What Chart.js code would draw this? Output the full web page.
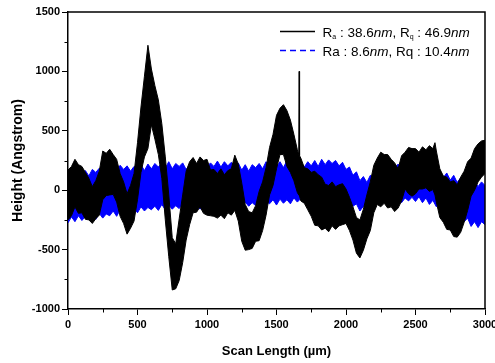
<!DOCTYPE html>
<html><head><meta charset="utf-8">
<script src="https://cdn.jsdelivr.net/npm/chart.js@4.4.1/dist/chart.umd.min.js"></script>
<style>html,body{margin:0;padding:0;background:#fff}#wrap{width:495px;height:363px}</style>
</head><body><div id="wrap"><canvas id="c" width="495" height="363"></canvas></div>
<script>
// ---- axis ticks ----
const xTickValues = [0, 500, 1000, 1500, 2000, 2500, 3000];
const yTickValues = [-1000, -500, 0, 500, 1000, 1500];
const xMinorTicks = [250, 750, 1250, 1750, 2250, 2750];
const yMinorTicks = [-750, -250, 250, 750, 1250];
const xTitle = "Scan Length (\u00b5m)";
const yTitle = "Height (Angstrom)";

// ---- black trace (envelope of the noisy scan: upper / lower edge) ----
const blackX = [0,25,50,75,100,125,150,175,200,225,250,275,300,325,350,375,400,425,450,475,
  500,525,550,575,600,625,650,675,700,725,750,775,800,825,850,875,900,925,950,975,
  1000,1025,1050,1075,1100,1125,1150,1175,1200,1225,1250,1275,1300,1325,1350,1375,1400,1425,1450,1475,
  1500,1525,1550,1575,1600,1625,1650,1660,1663,1666,1675,1700,1725,1750,1775,1800,1825,1850,1875,1900,1925,1950,1975,
  2000,2025,2050,2075,2100,2125,2150,2175,2200,2225,2250,2275,2300,2325,2350,2375,2400,2425,2450,2475,
  2500,2525,2550,2575,2600,2625,2640,2650,2675,2700,2725,2750,2775,2800,2825,2850,2875,2900,2925,2950,2975,3000];
const blackHi = [170,200,260,215,200,150,100,30,80,160,330,310,345,300,260,140,70,-30,40,140,
  400,700,960,1220,1020,880,760,560,280,-40,-400,-450,-240,-40,160,240,275,225,280,250,
  260,170,175,140,180,130,165,180,295,220,60,-120,-180,-190,-130,-10,70,190,360,470,
  630,690,720,670,590,470,340,300,1000,290,270,190,180,150,160,130,110,50,40,70,30,45,55,
  10,-60,-140,-230,-250,-160,-40,70,210,270,320,300,300,260,230,180,290,320,360,350,
  350,320,365,340,375,350,400,330,180,120,110,70,80,45,110,160,240,270,350,390,415,420];
const blackLo = [-250,-215,-140,-195,-190,-245,-250,-280,-240,-210,-80,-45,-40,-35,-100,-220,-280,-370,-320,-260,
  -80,150,280,350,550,430,300,100,-250,-560,-840,-830,-760,-610,-420,-290,-190,-185,-140,-195,
  -210,-215,-220,-235,-210,-240,-190,-210,-170,-260,-430,-505,-500,-490,-430,-425,-340,-210,-40,40,
  180,300,300,200,150,80,-20,-40,-40,-50,-90,-110,-165,-220,-295,-300,-335,-320,-350,-300,-330,-300,-290,
  -280,-340,-420,-530,-570,-505,-410,-340,-190,-120,-140,-110,-150,-140,-180,-150,-90,10,-30,-50,
  -30,10,10,20,-10,5,-40,-100,-230,-270,-330,-335,-390,-395,-355,-270,-170,-50,0,70,110,140];

// ---- blue trace (envelope), sampled every 25 um from 0 to 3000 ----
const blueStep = 25;
const blueHi = [90,135,105,150, 125,165,120,175, 150,185,140,195, 165,200,155,210,
  175,205,160,200, 180,215,165,220, 180,225,195,230, 185,240,180,225,
  200,230,175,215, 185,225,180,235, 195,230,200,245, 195,240,205,235,
  200,230,170,215, 160,215,190,225, 180,240,190,225, 195,240,190,250,
  200,235,185,235, 195,240,205,250, 200,260,215,255, 225,250,205,235,
  175,195,125,155, 80,115,65,125, 105,165,135,200, 160,215,185,220,
  180,235,195,230, 190,215,175,205, 135,185,120,165, 105,145,85,125,
  65,105,50,90, 35,80,30,70, 40];
const blueLo = [-275,-225,-265,-215, -255,-220,-240,-205, -245,-195,-235,-200, -215,-175,-220,-165,
  -205,-170,-190,-150, -190,-140,-175,-145, -165,-135,-170,-120, -165,-125,-160,-130,
  -155,-115,-170,-130, -155,-120,-160,-105, -155,-115,-150,-110, -155,-100,-140,-110,
  -145,-95,-150,-100, -135,-105,-130,-85, -130,-90,-115,-80, -125,-75,-110,-80,
  -115,-65,-100,-70, -105,-55,-95,-60, -85,-55,-90,-40, -85,-45,-95,-55,
  -105,-75,-135,-115, -175,-135,-165,-125, -145,-95,-130,-85, -110,-80,-115,-60,
  -105,-65,-90,-60, -95,-55,-105,-65, -120,-85,-140,-105, -165,-125,-195,-155,
  -225,-195,-265,-235, -305,-265,-315,-265, -290];

// legend texts: [text, style]
const legendRows = [
  [["R",""],["a","sub"],[" : 38.6",""],["nm","it"],[", R",""],["q","sub"],[" : 46.9",""],["nm","it"]],
  [["Ra : 8.6",""],["nm","it"],[", Rq : 10.4",""],["nm","it"]]
];

const pts = (xs, ys) => ys.map((y, i) => ({x: xs[i], y}));
const blueX = blueHi.map((_, i) => i * blueStep);

const boxPlugin = {
  id: 'boxAndMinor',
  afterDraw(chart) {
    const {ctx, chartArea: a, scales: {x, y}} = chart;
    ctx.save();
    ctx.strokeStyle = '#000';
    ctx.lineWidth = 1.5;
    ctx.beginPath();
    ctx.moveTo(a.left, a.top); ctx.lineTo(a.right, a.top); ctx.lineTo(a.right, a.bottom);
    ctx.stroke();
    ctx.lineWidth = 1;
    ctx.beginPath();
    xMinorTicks.forEach(v => { const p = Math.round(x.getPixelForValue(v)) + 0.5; ctx.moveTo(p, a.bottom); ctx.lineTo(p, a.bottom + 3.5); });
    yMinorTicks.forEach(v => { const p = Math.round(y.getPixelForValue(v)) + 0.5; ctx.moveTo(a.left, p); ctx.lineTo(a.left - 3.5, p); });
    ctx.stroke();
    // legend
    const rowsY = [31.5, 50.5];
    const base = [36.5, 55.5];
    const styles = [{c: '#000', dash: []}, {c: '#0000ff', dash: [6, 4]}];
    rowsY.forEach((ly, r) => {
      ctx.strokeStyle = styles[r].c; ctx.lineWidth = 1.3; ctx.setLineDash(styles[r].dash);
      ctx.beginPath(); ctx.moveTo(280, ly); ctx.lineTo(315, ly); ctx.stroke();
      ctx.setLineDash([]);
      let tx = 322.5;
      ctx.fillStyle = '#000'; ctx.textBaseline = 'alphabetic'; ctx.textAlign = 'left';
      legendRows[r].forEach(([t, s]) => {
        let by = base[r];
        if (s === 'sub') { ctx.font = '7px "Liberation Sans", Arial, sans-serif'; by += 2.5; }
        else if (s === 'it') ctx.font = 'italic 13.5px "Liberation Sans", Arial, sans-serif';
        else ctx.font = '13.5px "Liberation Sans", Arial, sans-serif';
        ctx.fillText(t, tx, by);
        tx += ctx.measureText(t).width;
      });
    });
    ctx.restore();
  }
};

const tickFont = {family: '"Liberation Sans", Arial, sans-serif', size: 11, weight: 'bold'};

new Chart(document.getElementById('c'), {
  type: 'line',
  data: {
    datasets: [
      {label: 'Ra 38.6 upper', data: pts(blackX, blackHi), borderColor: '#000', backgroundColor: '#000', borderWidth: 1, fill: '+1', pointRadius: 0, tension: 0},
      {label: 'Ra 38.6 lower', data: pts(blackX, blackLo), borderColor: '#000', borderWidth: 1, fill: false, pointRadius: 0, tension: 0},
      {label: 'Ra 8.6 upper', data: pts(blueX, blueHi), borderColor: '#0000ff', backgroundColor: '#0000ff', borderWidth: 1, fill: '+1', pointRadius: 0, tension: 0},
      {label: 'Ra 8.6 lower', data: pts(blueX, blueLo), borderColor: '#0000ff', borderWidth: 1, fill: false, pointRadius: 0, tension: 0}
    ]
  },
  options: {
    responsive: false, animation: false,
    layout: {padding: {left: 0, right: 10, top: 12, bottom: 0}},
    plugins: {legend: {display: false}, tooltip: {enabled: false}},
    scales: {
      x: {
        type: 'linear', min: 0, max: 3000,
        afterBuildTicks: s => { s.ticks = xTickValues.map(v => ({value: v})); },
        afterFit: s => { s.height = 54; s.paddingLeft = 0; s.paddingRight = 0; },
        ticks: {font: tickFont, color: '#000', padding: 3, maxRotation: 0, autoSkip: false, callback: v => String(v)},
        grid: {display: true, drawOnChartArea: false, drawTicks: true, tickLength: 6, tickColor: '#000', tickWidth: 1},
        border: {display: true, color: '#000', width: 1.5},
        title: {display: true, text: xTitle, color: '#000', font: {family: '"Liberation Sans", Arial, sans-serif', size: 13, weight: 'bold'}, padding: {top: 0, bottom: 3.5}}
      },
      y: {
        type: 'linear', min: -1000, max: 1500,
        afterBuildTicks: s => { s.ticks = yTickValues.map(v => ({value: v})); },
        afterFit: s => { s.width = 68; },
        ticks: {font: tickFont, color: '#000', padding: 2, callback: v => String(v)},
        grid: {display: true, drawOnChartArea: false, drawTicks: true, tickLength: 6, tickColor: '#000', tickWidth: 1},
        border: {display: true, color: '#000', width: 1.5},
        title: {display: true, text: yTitle, color: '#000', font: {family: '"Liberation Sans", Arial, sans-serif', size: 14, weight: 'bold'}, padding: {top: 9.6, bottom: 0}}
      }
    }
  },
  plugins: [boxPlugin]
});
</script></body></html>
